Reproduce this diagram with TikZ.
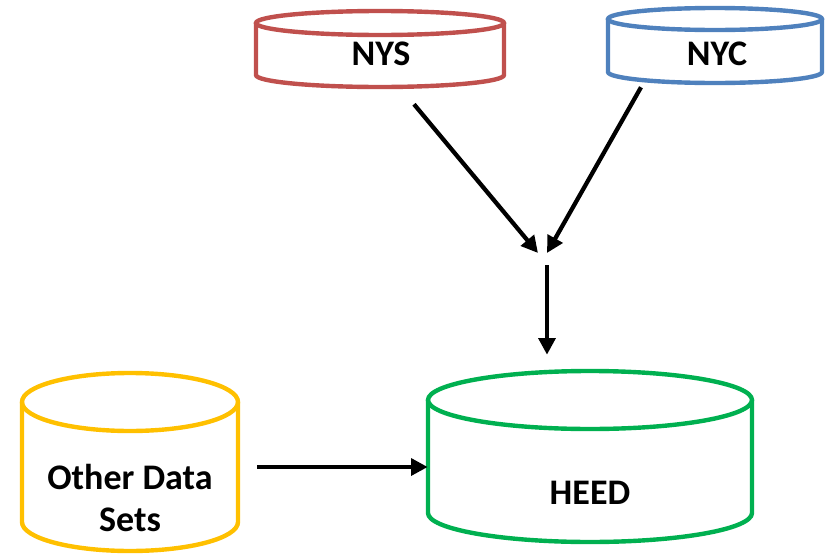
\documentclass[tikz,border=0pt]{standalone}
\usepackage{fontspec}
\setmainfont{Carlito}
\usepackage{tikz}
\usetikzlibrary{calc,arrows.meta}
\definecolor{nysred}{HTML}{C0504D}
\definecolor{nycblue}{HTML}{4F81BD}
\definecolor{heedgreen}{HTML}{00B050}
\definecolor{otheryellow}{HTML}{FFC000}
\tikzset{
	db/.style={line width=3.3pt},
	flow/.style={line width=3.2pt, color=black, -{Triangle[length=12.5pt,width=12.5pt]}},
	lbl/.style={font=\bfseries\fontsize{27}{31.5}\selectfont, inner sep=0, align=center}
}
% colour, name, (centre x, top ellipse centre y : x radius : y radius : side height)
\def\datacyl[#1](#2)(#3,#4:#5:#6:#7){%
	\node[inner sep=0, minimum width=2*#5*0.75pt, minimum height=(2*#6+#7)*0.75pt] (#2) at (#3,#4+#7/2) {};
	\draw[db, color=#1] (#3,#4) ellipse [x radius=#5, y radius=#6];
	\draw[db, color=#1] (#3-#5,#4) -- (#3-#5,#4+#7) arc (180:0:#5 and #6) -- (#3+#5,#4);
}

\begin{document}
\begin{tikzpicture}[x=0.75pt, y=-0.75pt]
		%%%%% START %%%%%
		
		\useasboundingbox (0, 0) rectangle (829, 557);
		
		\datacyl[nysred](nys)(380,23:124:12:52)
		\datacyl[nycblue](nyc)(715,19:107:11:53)
		\datacyl[otheryellow](other)(130,402:108:29:120)
		\datacyl[heedgreen](heed)(590,400:162:29:113)
		
		\node[lbl] (nystext) at (381, 54) {NYS};
		\node[lbl] (nyctext) at (717, 54) {NYC};
		\node[lbl] (othertext) at (130, 498) {Other Data\\Sets};
		\node[lbl] (heedtext) at (590, 493) {HEED};
		
		\coordinate (hub) at (547, 258);
		\coordinate (nysout) at ($(nys.south)+(34, 17)$);
		\coordinate (nycout) at ($(nyc.south)+(-74, 4)$);
		\coordinate (feed) at ($(other.east)+(19, 5)$);
		
		\draw[flow] (nysout) -- ($(hub)+(-9, -5)$);
		\draw[flow] (nycout) -- ($(hub)+(0, -5)$);
		\draw[flow, shorten >=12pt] ($(hub)+(0, 7)$) -- (hub |- heed.north);
		\draw[flow] (feed) -- (feed -| heed.west);
		
		%%%%% END %%%%%
	\end{tikzpicture}
\end{document}
